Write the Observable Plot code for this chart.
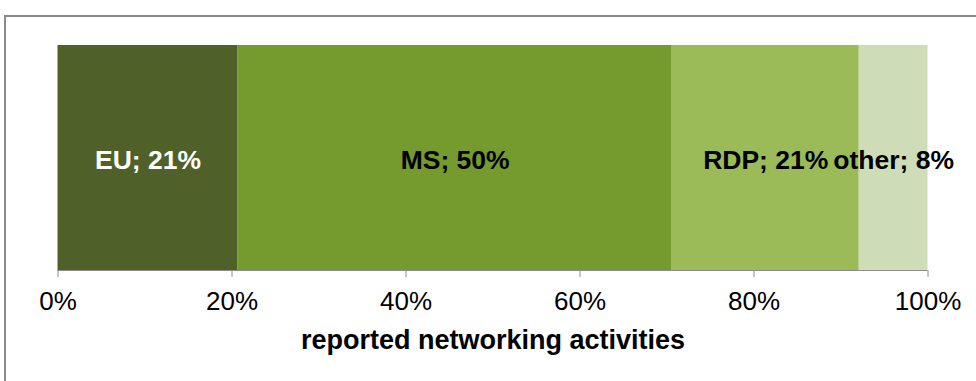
<!DOCTYPE html>
<html>
<head>
<meta charset="utf-8">
<script src="https://cdn.jsdelivr.net/npm/d3@7"></script>
<script src="https://cdn.jsdelivr.net/npm/@observablehq/plot@0.6"></script>
<style>
  html, body { margin: 0; padding: 0; background: #fff; overflow: hidden; }
  #wrap { position: relative; width: 976px; height: 381px; }
  #border { position: absolute; left: 4px; top: 15px; width: 1000px; height: 400px;
            border-top: 2px solid #8a8a8a; border-left: 2px solid #8a8a8a; box-sizing: border-box; }
  #chart { position: absolute; left: 0; top: 0; }
</style>
</head>
<body>
<div id="wrap"><div id="border"></div><div id="chart"></div></div>
<script>
const categories = ["EU", "MS", "RDP", "other"];
const shares = [20.7, 49.9, 21.5, 7.9];
const labels = ["EU; 21%", "MS; 50%", "RDP; 21%", "other; 8%"];
const colors = ["#4f6128", "#759a2d", "#9bbb59", "#cfdcb8"];
const labelColors = ["#ffffff", "#000000", "#000000", "#000000"];
const tickValues = [0, 20, 40, 60, 80, 100];
const axisTitle = "reported networking activities";

let acc = 0;
const data = categories.map((c, i) => {
  const x1 = acc; acc += shares[i];
  return {cat: c, x1, x2: acc, label: labels[i], lc: labelColors[i]};
});

const plot = Plot.plot({
  width: 976,
  height: 381,
  marginLeft: 57.5,
  marginRight: 48.5,
  marginTop: 45,
  marginBottom: 111,
  style: {fontFamily: "'Liberation Sans', Arial, sans-serif", fontSize: "26px", color: "#000", background: "transparent"},
  x: {domain: [0, 100]},
  y: {domain: [0, 1], axis: null},
  color: {domain: categories, range: colors},
  marks: [
    Plot.rectX(data, {x1: "x1", x2: "x2", y1: 0, y2: 1, fill: "cat"}),
    Plot.ruleY([0], {stroke: "#8c8c8c", strokeWidth: 1.2}),
    Plot.axisX({ticks: tickValues, tickFormat: d => d + "%", tickSize: 7, tickPadding: 14, stroke: "#8c8c8c", fill: "#000", label: null}),
    Plot.text(data, {x: d => (d.x1 + d.x2) / 2, y: 0.49, text: "label", fill: "lc", fontWeight: "bold", fontSize: 26.5}),
    Plot.text([axisTitle], {frameAnchor: "bottom", dy: 78, fontWeight: "bold", fontSize: 27, fill: "#000"})
  ]
});
document.getElementById("chart").appendChild(plot);
</script>
</body>
</html>
